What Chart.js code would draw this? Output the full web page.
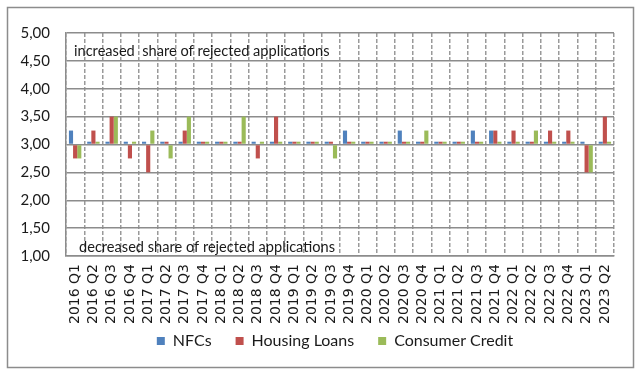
<!DOCTYPE html>
<html>
<head>
<meta charset="utf-8">
<script src="https://cdn.jsdelivr.net/npm/chart.js@4/dist/chart.umd.min.js"></script>
<style>
  html, body { margin: 0; padding: 0; background: #ffffff; }
  #wrap { width: 641px; height: 374px; position: relative; }
</style>
</head>
<body>
<div id="wrap"><canvas id="c" width="641" height="374"></canvas></div>
<script>
const categories = [
  "2016 Q1","2016 Q2","2016 Q3","2016 Q4",
  "2017 Q1","2017 Q2","2017 Q3","2017 Q4",
  "2018 Q1","2018 Q2","2018 Q3","2018 Q4",
  "2019 Q1","2019 Q2","2019 Q3","2019 Q4",
  "2020 Q1","2020 Q2","2020 Q3","2020 Q4",
  "2021 Q1","2021 Q2","2021 Q3","2021 Q4",
  "2022 Q1","2022 Q2","2022 Q3","2022 Q4",
  "2023 Q1","2023 Q2"
];
const nfcs = [
  3.25, 3.05, 3.05, 3.05,
  3.05, 3.05, 3.05, 3.05,
  3.05, 3.05, 3.05, 3.05,
  3.05, 3.05, 3.05, 3.25,
  3.05, 3.05, 3.25, 3.05,
  3.05, 3.05, 3.25, 3.25,
  3.05, 3.05, 3.05, 3.05,
  3.05, 3.05
];
const housingLoans = [
  2.75, 3.25, 3.50, 2.75,
  2.50, 3.05, 3.25, 3.05,
  3.05, 3.05, 2.75, 3.50,
  3.05, 3.05, 3.05, 3.05,
  3.05, 3.05, 3.05, 3.05,
  3.05, 3.05, 3.05, 3.25,
  3.25, 3.05, 3.25, 3.25,
  2.50, 3.50
];
const consumerCredit = [
  2.75, 3.05, 3.50, 3.05,
  3.25, 2.75, 3.50, 3.05,
  3.05, 3.50, 3.05, 3.05,
  3.05, 3.05, 2.75, 3.05,
  3.05, 3.05, 3.05, 3.25,
  3.05, 3.05, 3.05, 3.05,
  3.05, 3.25, 3.05, 3.05,
  2.50, 3.05
];
const seriesNames = ["NFCs", "Housing Loans", "Consumer Credit"];
const yTicks = [1.0, 1.5, 2.0, 2.5, 3.0, 3.5, 4.0, 4.5, 5.0];
const baseValue = 3;
const annotationTexts = ["increased  share of rejected applications", "decreased share of rejected applications"];

const frame = {
  id: 'frame',
  beforeDraw(chart) {
    const ctx = chart.ctx;
    ctx.save();
    ctx.fillStyle = '#ffffff';
    ctx.fillRect(0, 0, chart.width, chart.height);
    ctx.strokeStyle = '#8c8c8c';
    ctx.lineWidth = 1.5;
    ctx.strokeRect(7.5, 7.5, 626, 360);
    ctx.restore();
  }
};

const legendShift = {
  id: 'legendShift',
  afterLayout(chart) {
    const lg = chart.legend;
    if (lg) {
      lg.left += 24;
      lg.right += 24;
      lg.top -= 14;
      lg.bottom -= 14;
    }
  }
};

const notes = {
  id: 'notes',
  afterDraw(chart) {
    const ctx = chart.ctx;
    const y = chart.scales.y;
    const a = chart.chartArea;
    ctx.save();
    ctx.fillStyle = '#1a1a1a';
    ctx.font = '14.6px Lato';
    ctx.textBaseline = 'middle';
    ctx.textAlign = 'left';
    ctx.fillText(annotationTexts[0], a.left + 8, y.getPixelForValue(4.68));
    ctx.fillText(annotationTexts[1], a.left + 13, y.getPixelForValue(1.16));
    ctx.restore();
  }
};

new Chart(document.getElementById('c'), {
  type: 'bar',
  data: {
    labels: categories,
    datasets: [
      { label: seriesNames[0], data: nfcs, backgroundColor: '#4F81BD', base: baseValue },
      { label: seriesNames[1], data: housingLoans, backgroundColor: '#C0504D', base: baseValue },
      { label: seriesNames[2], data: consumerCredit, backgroundColor: '#9BBB59', base: baseValue }
    ]
  },
  options: {
    responsive: false,
    animation: false,
    devicePixelRatio: 1,
    datasets: { bar: { categoryPercentage: 0.68, barPercentage: 1.0, borderWidth: 0 } },
    layout: { padding: { left: 8, right: 27, top: 33, bottom: 1 } },
    plugins: {
      legend: {
        position: 'bottom',
        labels: {
          font: { family: 'Lato', size: 16 },
          color: '#1a1a1a',
          boxWidth: 8,
          boxHeight: 8,
          padding: 24
        }
      },
      tooltip: { enabled: false }
    },
    scales: {
      x: {
        offset: true,
        grid: { color: '#9a9a9a', lineWidth: 1.5, drawTicks: false, offset: true },
        border: { display: true, color: '#8c8c8c', width: 1.5, dash: [4, 2] },
        ticks: {
          font: { family: 'DejaVu Sans', size: 14 },
          color: '#1a1a1a',
          maxRotation: 90,
          minRotation: 90,
          autoSkip: false,
          padding: 8
        },
        afterFit(s) { s.height = 67; }
      },
      y: {
        min: yTicks[0],
        max: yTicks[yTicks.length - 1],
        afterBuildTicks(s) { s.ticks = yTicks.map(v => ({ value: v })); },
        grid: { color: '#8c8c8c', lineWidth: 1.5, drawTicks: false },
        border: { display: true, color: '#8c8c8c', width: 1.5 },
        ticks: {
          font: { family: 'Lato', size: 15 },
          color: '#1a1a1a',
          padding: 16,
          callback: v => Number(v).toFixed(2).replace('.', ',')
        },
        afterFit(s) { s.width = 58; }
      }
    }
  },
  plugins: [frame, legendShift, notes]
});
</script>
</body>
</html>
